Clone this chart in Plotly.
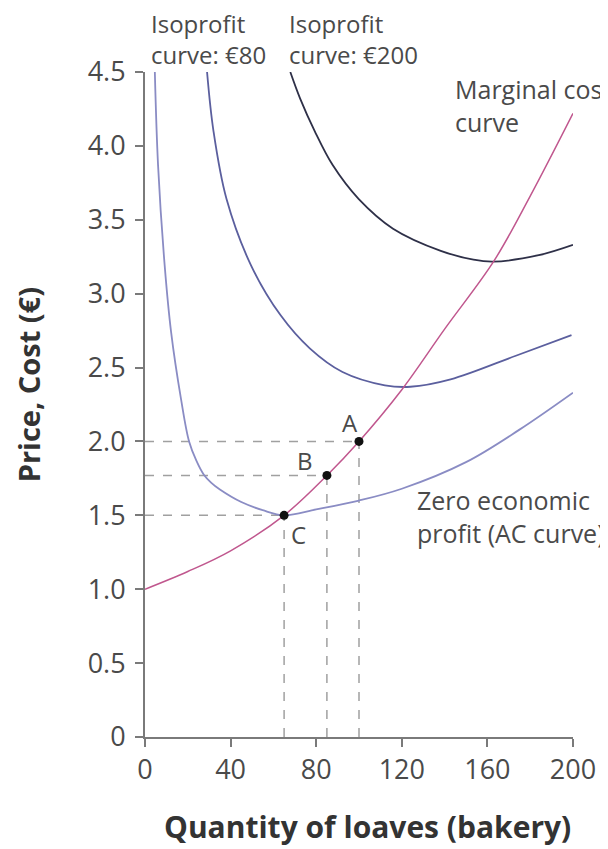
import plotly.graph_objects as go

# curves
mc_x = [0, 20, 40, 65, 85, 100, 120, 140, 163, 180, 200]
mc_y = [1.0, 1.12, 1.26, 1.5, 1.77, 2.0, 2.35, 2.76, 3.22, 3.66, 4.22]

ac_x = [4.6, 6.1, 9.2, 12.2, 16.8, 20.6, 24, 27.5, 31, 35, 45, 55, 65, 80, 100, 120, 150, 175, 200]
ac_y = [4.5, 3.87, 3.19, 2.74, 2.29, 2.0, 1.87, 1.775, 1.72, 1.675, 1.59, 1.535, 1.5, 1.54, 1.6, 1.68, 1.86, 2.08, 2.33]

iso80_x = [29.0, 32.0, 38.1, 49.6, 63.3, 77.0, 92.3, 112.1, 124, 142.8, 173.3, 199.3]
iso80_y = [4.5, 4.1, 3.64, 3.19, 2.855, 2.63, 2.47, 2.38, 2.37, 2.42, 2.58, 2.72]

iso200_x = [67.9, 72.5, 79.3, 87.7, 99.9, 115.9, 138.2, 153.5, 162.6, 184, 200]
iso200_y = [4.5, 4.32, 4.10, 3.87, 3.64, 3.44, 3.29, 3.23, 3.217, 3.26, 3.33]

pt_names = ["A", "B", "C"]
pt_x = [100, 85, 65]
pt_y = [2.0, 1.77, 1.5]

FONT = "Open Sans"
TXT = "#4a4a4a"

fig = go.Figure()

# dashed guide lines to each point
for x, y in zip(pt_x, pt_y):
    fig.add_trace(go.Scatter(x=[0, x], y=[y, y], mode="lines",
                             line=dict(color="#a0a0a0", width=1.5, dash="dash"),
                             hoverinfo="skip"))
    fig.add_trace(go.Scatter(x=[x, x], y=[0, y], mode="lines",
                             line=dict(color="#a0a0a0", width=1.5, dash="dash"),
                             hoverinfo="skip"))

def curve(x, y, color, width=1.8):
    fig.add_trace(go.Scatter(x=x, y=y, mode="lines",
                             line=dict(color=color, width=width, shape="spline", smoothing=1.0)))

curve(ac_x, ac_y, "#8a8cc4")
curve(iso80_x, iso80_y, "#5b5f9e")
curve(iso200_x, iso200_y, "#2e3048")
curve(mc_x, mc_y, "#c0578e", 1.5)

fig.add_trace(go.Scatter(x=pt_x, y=pt_y, mode="markers",
                         marker=dict(color="#111111", size=9)))

# point labels
lab_pos = {"A": (96, 2.13), "B": (74.7, 1.87), "C": (71.7, 1.37)}
for n in pt_names:
    fig.add_annotation(x=lab_pos[n][0], y=lab_pos[n][1], text=n, showarrow=False,
                       font=dict(size=24, color=TXT, family=FONT))

# curve labels inside the plot
for x, y, t in [(144, 4.27, "Marginal cost<br>curve"),
                (126, 1.49, "Zero economic<br>profit (AC curve)")]:
    fig.add_annotation(x=x, y=y, text=t, showarrow=False, xanchor="left", align="left",
                       font=dict(size=25, color=TXT, family=FONT))

# isoprofit labels above the plot
for x, t in [(2, "Isoprofit<br>curve: €80"), (66.5, "Isoprofit<br>curve: €200")]:
    fig.add_annotation(x=x, xref="x", y=1, yref="paper", yanchor="middle", yshift=33,
                       text=t, showarrow=False, xanchor="left", align="left",
                       font=dict(size=24, color=TXT, family=FONT))

# axis titles
fig.add_annotation(x=0, xref="paper", xshift=-117, xanchor="center",
                   y=2.38, yref="y", yanchor="middle", textangle=-90,
                   text="<b>Price, Cost (€)</b>", showarrow=False,
                   font=dict(size=29, color="#333333", family=FONT))
fig.add_annotation(x=103.9, xref="x", y=0, yref="paper", yanchor="middle", yshift=-89,
                   text="<b>Quantity of loaves (bakery)</b>", showarrow=False,
                   font=dict(size=30, color="#333333", family=FONT))

# page has an 8px body margin, so the figure is sized to fit inside it
fig.update_layout(
    width=600, height=841,
    margin=dict(l=137, r=26, t=64, b=112),
    plot_bgcolor="white", paper_bgcolor="white",
    showlegend=False,
    font=dict(family=FONT, color=TXT),
)
fig.update_xaxes(range=[0, 200], tickvals=[0, 40, 80, 120, 160, 200],
                 showgrid=False, zeroline=False, showline=True, linecolor="#7a7a7a", linewidth=2,
                 ticks="outside", ticklen=8, tickcolor="#7a7a7a", tickwidth=2,
                 tickfont=dict(size=27, color=TXT, family=FONT))
fig.update_yaxes(range=[0, 4.5], tickvals=[0, 0.5, 1, 1.5, 2, 2.5, 3, 3.5, 4, 4.5],
                 ticktext=["0", "0.5", "1.0", "1.5", "2.0", "2.5", "3.0", "3.5", "4.0", "4.5"],
                 showgrid=False, zeroline=False, showline=True, linecolor="#7a7a7a", linewidth=2,
                 ticks="outside", ticklen=8, tickcolor="#7a7a7a", tickwidth=2,
                 ticklabelstandoff=4,
                 tickfont=dict(size=27, color=TXT, family=FONT))

fig.write_html("out.html")
